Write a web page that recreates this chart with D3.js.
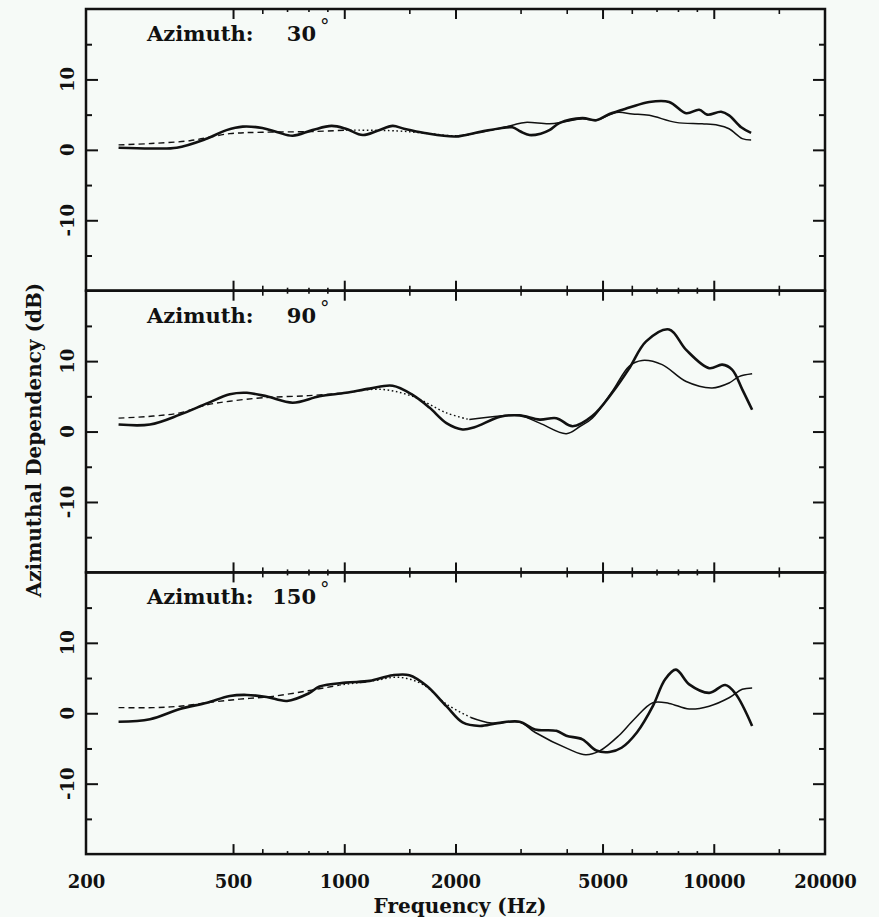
<!DOCTYPE html>
<html><head><meta charset="utf-8">
<script src="https://cdn.jsdelivr.net/npm/d3@7"></script>
<style>
body{margin:0;background:#f6faf7;}
svg{display:block;}
text{font-family:"DejaVu Serif",serif;font-weight:bold;fill:#111;}
</style>
</head><body>
<svg id="chart" width="879" height="917"></svg>
<script>
// ---------------- data ----------------
const azimuthLabels = ["30", "90", "150"];
const xTickValues = [200, 500, 1000, 2000, 5000, 10000, 20000];
const xMinorMid = [600, 1500, 3000, 4000, 6000, 15000];
const xMinorSmall = [700, 800, 900, 7000, 8000, 9000];
const yTickValues = [-10, 0, 10];
const yMinorValues = [-15, -5, 5, 15];

// Azimuth 30 deg: measured (thick), high-frequency model (thin), low-frequency model (dashed/dotted)
const measured30 = [[245,0.3],[300,0.2],[352,0.3],[420,1.5],[480,2.8],[531,3.3],[600,3.1],[660,2.5],[725,2.0],[820,2.8],[924,3.4],[1010,3.0],[1122,2.1],[1230,2.7],[1352,3.4],[1450,3.0],[1650,2.4],[2000,1.9],[2300,2.5],[2600,3.0],[2851,3.2],[3000,2.6],[3170,2.1],[3400,2.3],[3590,2.8],[3820,3.8],[4410,4.5],[4810,4.2],[5220,5.1],[5910,6.0],[6690,6.8],[7570,6.8],[8420,5.2],[9130,5.7],[9600,5.0],[10470,5.4],[11000,4.9],[11860,3.2],[12620,2.4]];
const model30 = [[2000,1.9],[2180,2.2],[2500,2.8],[2851,3.5],[3090,3.9],[3590,3.7],[3950,4.0],[4410,4.4],[4810,4.2],[5450,5.3],[6020,5.1],[6690,4.9],[7900,3.9],[9300,3.7],[10260,3.5],[11000,3.0],[11940,1.6],[12620,1.4]];
const low30 = [[245,0.7],[300,0.9],[382,1.3],[490,2.3],[601,2.5],[822,2.6],[1010,2.8],[1380,2.7],[1700,2.3],[2000,2.0],[2200,2.2]];

// Azimuth 90 deg
const measured90 = [[245,1.0],[298,1.0],[359,2.4],[425,4.0],[490,5.3],[545,5.5],[617,5.0],[725,4.1],[857,5.0],[1010,5.5],[1172,6.1],[1352,6.5],[1531,5.2],[1700,3.4],[1890,1.2],[2090,0.3],[2250,0.6],[2640,2.1],[2980,2.3],[3380,1.7],[3750,1.9],[4150,0.75],[4690,2.2],[5310,5.5],[5910,9.0],[6560,12.8],[7570,14.5],[8420,11.6],[9720,9.0],[10540,9.5],[11210,8.8],[11940,6.0],[12700,3.1]];
const model90 = [[2180,1.7],[2640,2.2],[2980,2.3],[3380,1.2],[3990,-0.3],[4350,0.75],[4690,1.9],[5310,5.7],[5910,9.3],[6400,10.1],[7250,9.5],[8420,7.1],[9900,6.2],[11000,6.9],[11700,7.8],[12700,8.2]];
const low90 = [[245,1.9],[304,2.2],[359,2.65],[425,3.8],[490,4.3],[601,4.8],[800,5.1],[1010,5.5],[1250,6.0],[1531,5.0],[1890,2.65],[2180,1.7]];

// Azimuth 150 deg
const measured150 = [[245,-1.2],[298,-0.85],[359,0.6],[425,1.5],[490,2.45],[545,2.6],[617,2.3],[700,1.75],[800,2.8],[857,3.8],[1010,4.35],[1172,4.6],[1352,5.4],[1500,5.4],[1670,3.9],[1890,1.0],[2090,-1.3],[2325,-1.8],[2600,-1.4],[2980,-1.2],[3280,-2.3],[3750,-2.5],[3990,-3.2],[4410,-3.7],[4810,-5.3],[5220,-5.5],[5630,-4.9],[6200,-2.7],[6840,1.0],[7380,4.8],[7900,6.2],[8580,4.1],[9720,2.9],[10740,4.0],[11440,2.8],[12700,-1.8]];
const model150 = [[2200,-0.6],[2500,-1.4],[2980,-1.2],[3280,-2.7],[4050,-5.1],[4500,-5.9],[4910,-5.35],[5530,-3.2],[6090,-0.85],[6840,1.5],[7570,1.4],[8580,0.6],[9720,1.0],[11000,2.2],[11940,3.4],[12700,3.6]];
const low150 = [[245,0.8],[304,0.8],[359,1.0],[425,1.5],[521,2.0],[640,2.4],[800,3.2],[970,4.0],[1196,4.6],[1410,5.1],[1630,4.1],[1890,1.3],[2200,-0.6]];

const xTitle = "Frequency (Hz)";
const yTitle = "Azimuthal Dependency (dB)";

// ---------------- layout ----------------
const left = 86, right = 825, top0 = 9, panelH = 281.7;
const ink = "#111";
const svg = d3.select("#chart");
const x = d3.scaleLog().domain([200, 20000]).range([left, right]);

const panels = [
  {label: azimuthLabels[0], measured: measured30, model: model30, low: low30},
  {label: azimuthLabels[1], measured: measured90, model: model90, low: low90},
  {label: azimuthLabels[2], measured: measured150, model: model150, low: low150}
];

function axisTicks(g, axis, tr, width) {
  g.append("g").attr("transform", tr).call(axis)
    .call(s => s.select(".domain").remove())
    .call(s => s.selectAll("line").attr("stroke", ink).attr("stroke-width", width));
}

panels.forEach((p, i) => {
  const top = top0 + i * panelH, bottom = top + panelH;
  const y = d3.scaleLinear().domain([-20, 20]).range([bottom, top]);
  const g = svg.append("g");

  const line = d3.line().x(d => x(d[0])).y(d => y(d[1])).curve(d3.curveCatmullRom.alpha(0.5));

  // low-frequency model: dashed, then dotted
  const split = p.low.findIndex(d => d[0] >= 950);
  g.append("path").attr("d", line(p.low.slice(0, split + 1)))
    .attr("fill", "none").attr("stroke", ink).attr("stroke-width", 1.4).attr("stroke-dasharray", "6,4");
  g.append("path").attr("d", line(p.low.slice(split)))
    .attr("fill", "none").attr("stroke", ink).attr("stroke-width", 1.4).attr("stroke-dasharray", "1.6,2.6");
  // thin model
  g.append("path").attr("d", line(p.model))
    .attr("fill", "none").attr("stroke", ink).attr("stroke-width", 1.5);
  // measured thick
  g.append("path").attr("d", line(p.measured))
    .attr("fill", "none").attr("stroke", ink).attr("stroke-width", 2.6).attr("stroke-linejoin", "round");

  // ticks (all inward)
  const majorX = xTickValues.slice(1, -1);
  axisTicks(g, d3.axisTop(x).tickValues(majorX).tickSize(10).tickFormat(""), `translate(0,${bottom})`, 2);
  axisTicks(g, d3.axisTop(x).tickValues(xMinorMid).tickSize(5).tickFormat(""), `translate(0,${bottom})`, 1.6);
  axisTicks(g, d3.axisTop(x).tickValues(xMinorSmall).tickSize(3).tickFormat(""), `translate(0,${bottom})`, 1.6);
  axisTicks(g, d3.axisBottom(x).tickValues(majorX).tickSize(10).tickFormat(""), `translate(0,${top})`, 2);
  axisTicks(g, d3.axisBottom(x).tickValues(xMinorMid).tickSize(5).tickFormat(""), `translate(0,${top})`, 1.6);
  axisTicks(g, d3.axisBottom(x).tickValues(xMinorSmall).tickSize(3).tickFormat(""), `translate(0,${top})`, 1.6);
  axisTicks(g, d3.axisRight(y).tickValues(yTickValues).tickSize(12).tickFormat(""), `translate(${left},0)`, 2);
  axisTicks(g, d3.axisRight(y).tickValues(yMinorValues).tickSize(6).tickFormat(""), `translate(${left},0)`, 2);
  axisTicks(g, d3.axisLeft(y).tickValues(yTickValues).tickSize(12).tickFormat(""), `translate(${right},0)`, 2);
  axisTicks(g, d3.axisLeft(y).tickValues(yMinorValues).tickSize(6).tickFormat(""), `translate(${right},0)`, 2);

  // y tick labels, rotated
  g.selectAll("text.ylab").data(yTickValues).join("text")
    .attr("class", "ylab")
    .attr("transform", d => `translate(74,${y(d)}) rotate(-90)`)
    .attr("text-anchor", "middle")
    .style("font-size", "18px")
    .text(d => String(d));

  // azimuth label
  const ly = top + 32;
  g.append("text").attr("x", 147).attr("y", ly).style("font-size", "21px").text("Azimuth:");
  g.append("text").attr("x", 316).attr("y", ly).attr("text-anchor", "end").style("font-size", "21px").text(p.label);
  g.append("text").attr("x", 320).attr("y", ly - 9).style("font-size", "19px").style("font-weight", "normal").text("°");

  // frame
  g.append("rect").attr("x", left).attr("y", top).attr("width", right - left).attr("height", panelH)
    .attr("fill", "none").attr("stroke", ink).attr("stroke-width", 2.5);
});

const bottomY = top0 + 3 * panelH;
// x tick labels
svg.append("g").attr("transform", `translate(0,${bottomY})`)
  .call(d3.axisBottom(x).tickValues(xTickValues).tickSize(0).tickPadding(34).tickFormat(d3.format("d")))
  .call(s => s.select(".domain").remove())
  .call(s => s.selectAll("text").attr("dy", 0).style("font-size", "18px")
    .style("font-family", '"DejaVu Serif",serif').style("font-weight", "bold").attr("fill", ink));

svg.append("text").attr("x", 460).attr("y", 913).attr("text-anchor", "middle")
  .style("font-size", "20px").text(xTitle);
svg.append("text").attr("transform", "translate(41,440) rotate(-90)").attr("text-anchor", "middle")
  .style("font-size", "20px").text(yTitle);
</script>
</body></html>
